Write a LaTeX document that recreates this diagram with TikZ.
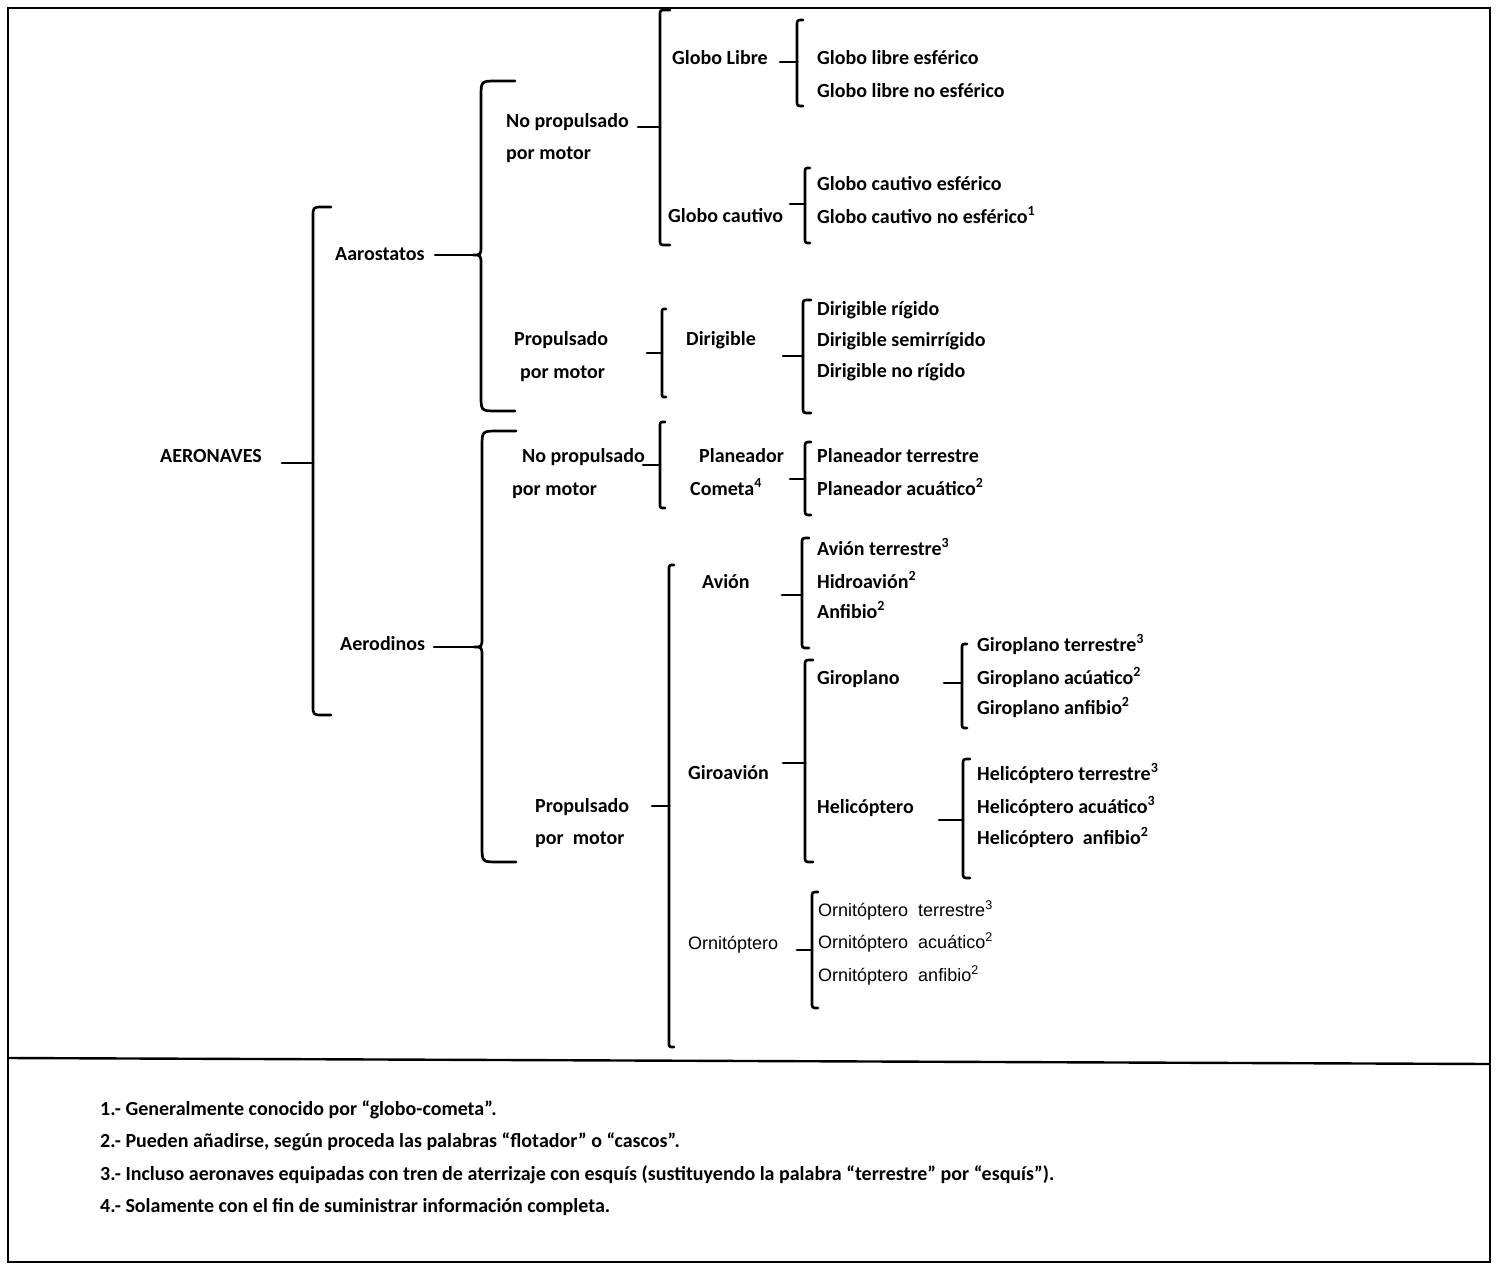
\documentclass[tikz,border=0pt]{standalone}
\usepackage{fontspec}
\setmainfont{Carlito}
\newfontfamily\arialf{Liberation Sans}
\newcommand\sups[1]{\textsuperscript{#1}}
% bracket: name, x, top, bottom, serif, radius
\newcommand\bkt[6]{%
  \draw[bline] (#2+#5,#3) -- (#2+#6,#3) .. controls (#2,#3) .. (#2,#3+#6)
     -- (#2,#4-#6) .. controls (#2,#4) .. (#2+#6,#4) -- (#2+#5,#4);
  \coordinate (#1) at (#2,{(#3+#4)/2});}
% brace with cusp: name, x, top, bottom, mid, serif, radius
\newcommand\brc[7]{%
  \draw[bline] (#2+#6,#3) -- (#2+#7,#3) .. controls (#2,#3) .. (#2,#3+#7)
     -- (#2,#5-10) .. controls (#2,#5) .. (#2-8,#5)
     .. controls (#2,#5) .. (#2,#5+10)
     -- (#2,#4-#7) .. controls (#2,#4) .. (#2+#7,#4) -- (#2+#6,#4);
  \coordinate (#1) at (#2-8,#5);}
\begin{document}
\begin{tikzpicture}[x=1pt,y=-1pt,
  bline/.style={line width=2.7pt, line cap=round, line join=round},
  lbl/.style={anchor=base west, inner sep=0pt, font=\bfseries\fontsize{20}{24}\selectfont},
  alb/.style={anchor=base west, inner sep=0pt, font=\arialf\fontsize{18}{22}\selectfont},
  fnt/.style={anchor=base west, inner sep=0pt, font=\bfseries\fontsize{20}{24}\selectfont},
  frame/.style={line width=2.4pt}]
\useasboundingbox (0,0) rectangle (1500,1269);
% frame
\draw[frame] (8,8) rectangle (1490,1262);
\draw[frame] (8,1058) -- (1490,1064);

% ---------- labels (baseline = centre + 7)
\node[lbl] (aer) at (160,462) {AERONAVES};
\node[lbl] (aro) at (335,260) {Aarostatos};
\node[lbl] (ado) at (340,650) {Aerodinos};

\node[lbl] (np1a) at (506,127) {No propulsado};
\node[lbl] (np1b) at (506,159) {por motor};
\node[lbl] (pp1a) at (514,345) {Propulsado};
\node[lbl] (pp1b) at (520,378) {por motor};
\node[lbl] (np2a) at (522,462) {No propulsado};
\node[lbl] (np2b) at (512,495) {por motor};
\node[lbl] (pp2a) at (535,812) {Propulsado};
\node[lbl] (pp2b) at (535,844) {por\ \ motor};

\node[lbl] (gl) at (672,64) {Globo Libre};
\node[lbl] (gc) at (668,222) {Globo cautivo};
\node[lbl] (dir) at (686,345) {Dirigible};
\node[lbl] (pla) at (699,462) {Planeador};
\node[lbl] (com) at (690,495) {Cometa\sups{4}};
\node[lbl] (avi) at (702,588) {Avión};
\node[lbl] (gav) at (688,779) {Giroavión};
\node[alb] (orn) at (688,949) {Ornitóptero};

\node[lbl] (gl1) at (817,64) {Globo libre esférico};
\node[lbl] (gl2) at (817,97) {Globo libre no esférico};
\node[lbl] (gc1) at (817,190) {Globo cautivo esférico};
\node[lbl] (gc2) at (817,223) {Globo cautivo no esférico\sups{1}};
\node[lbl] (d1) at (817,315) {Dirigible rígido};
\node[lbl] (d2) at (817,346) {Dirigible semirrígido};
\node[lbl] (d3) at (817,377) {Dirigible no rígido};
\node[lbl] (p1) at (817,462) {Planeador terrestre};
\node[lbl] (p2) at (817,495) {Planeador acuático\sups{2}};
\node[lbl] (a1) at (817,555) {Avión terrestre\sups{3}};
\node[lbl] (a2) at (817,588) {Hidroavión\sups{2}};
\node[lbl] (a3) at (817,618) {Anfibio\sups{2}};
\node[lbl] (gp) at (817,684) {Giroplano};
\node[lbl] (he) at (817,813) {Helicóptero};
\node[lbl] (gp1) at (977,651) {Giroplano terrestre\sups{3}};
\node[lbl] (gp2) at (977,684) {Giroplano acúatico\sups{2}};
\node[lbl] (gp3) at (977,714) {Giroplano anfibio\sups{2}};
\node[lbl] (he1) at (977,780) {Helicóptero terrestre\sups{3}};
\node[lbl] (he2) at (977,813) {Helicóptero acuático\sups{3}};
\node[lbl] (he3) at (977,844) {Helicóptero\ \ anfibio\sups{2}};
\node[alb] (o1) at (818,916) {Ornitóptero\ \ terrestre\sups{3}};
\node[alb] (o2) at (818,948) {Ornitóptero\ \ acuático\sups{2}};
\node[alb] (o3) at (818,981) {Ornitóptero\ \ anfibio\sups{2}};

% ---------- brackets
\bkt{B1}{313}{207}{715}{18}{10}
\brc{B2a}{481}{81}{411}{255}{34}{16}
\brc{B2b}{482}{431}{862}{647}{34}{16}
\bkt{B3a}{660}{10}{245}{10}{6}
\bkt{B3b}{662}{309}{397}{4}{4}
\bkt{B3c}{660}{422}{508}{5}{5}
\bkt{B3d}{669}{565}{1047}{5}{5}
\bkt{B4a}{797}{20}{106}{6}{6}
\bkt{B4b}{805}{168}{243}{5}{5}
\bkt{B4c}{803}{300}{413}{8}{6}
\bkt{B4d}{805}{442}{515}{6}{6}
\bkt{B4e}{802}{538}{648}{7}{6}
\bkt{B4f}{805}{660}{862}{8}{6}
\bkt{B5a}{962}{644}{728}{5}{5}
\bkt{B5b}{963}{759}{878}{7}{6}
\bkt{B4g}{812}{892}{1008}{6}{6}

% ---------- connectors
\draw[bline] (282,463) coordinate (c1) -- (313,463);
\draw[bline] (435,255) coordinate (c2) -- (B2a);
\draw[bline] (434,647) coordinate (c3) -- (B2b);
\draw[bline] (638,127) coordinate (c4) -- (660,127);
\draw[bline] (647,353) coordinate (c5) -- (662,353);
\draw[bline] (643,465) coordinate (c6) -- (660,465);
\draw[bline] (652,806) coordinate (c7) -- (669,806);
\draw[bline] (780,62) coordinate (c8) -- (797,62);
\draw[bline] (790,204) coordinate (c9) -- (805,204);
\draw[bline] (783,356) coordinate (c10) -- (803,356);
\draw[bline] (790,479) coordinate (c11) -- (805,479);
\draw[bline] (782,595) coordinate (c12) -- (802,595);
\draw[bline] (783,763) coordinate (c13) -- (805,763);
\draw[bline] (944,683) coordinate (c14) -- (962,683);
\draw[bline] (939,820) coordinate (c15) -- (963,820);
\draw[bline] (797,950) coordinate (c16) -- (812,950);

% ---------- footnotes
\node[fnt] (f1) at (100,1115) {1.- Generalmente conocido por “globo-cometa”.};
\node[fnt] (f2) at (100,1147) {2.- Pueden añadirse, según proceda las palabras “flotador” o “cascos”.};
\node[fnt] (f3) at (100,1180) {3.- Incluso aeronaves equipadas con tren de aterrizaje con esquís (sustituyendo la palabra “terrestre” por “esquís”).};
\node[fnt] (f4) at (100,1212) {4.- Solamente con el fin de suministrar información completa.};
\end{tikzpicture}
\end{document}
